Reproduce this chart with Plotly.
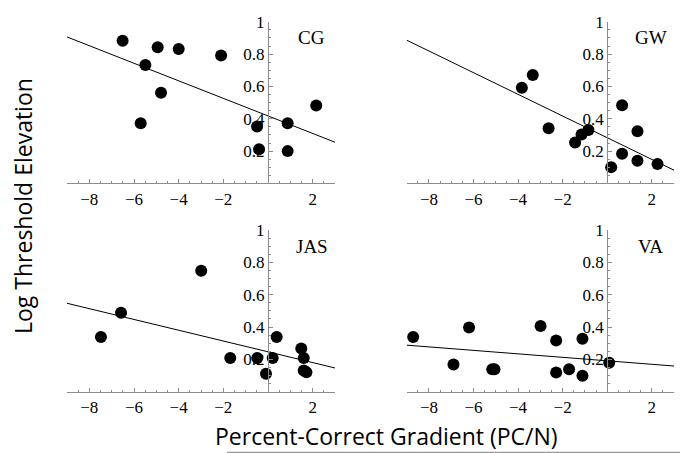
import plotly.graph_objects as go

# ---- data ----
panel_names = ["CG", "GW", "JAS", "VA"]

cg_x = [-6.51, -4.94, -4.00, -2.10, -5.49, -4.79, -5.70, -0.49, -0.40, 0.88, 0.88, 2.16]
cg_y = [0.883, 0.842, 0.832, 0.791, 0.733, 0.561, 0.372, 0.352, 0.211, 0.372, 0.200, 0.482]

gw_x = [-3.83, -3.34, -2.63, -1.44, -1.15, -0.84, 0.67, 0.67, 0.18, 1.36, 1.36, 2.26]
gw_y = [0.592, 0.671, 0.341, 0.253, 0.303, 0.331, 0.483, 0.184, 0.101, 0.323, 0.141, 0.121]

jas_x = [-7.48, -6.58, -2.99, -1.69, -0.48, -0.09, 0.21, 0.39, 1.49, 1.60, 1.60, 1.72]
jas_y = [0.339, 0.488, 0.748, 0.208, 0.208, 0.111, 0.208, 0.339, 0.268, 0.208, 0.131, 0.121]

va_x = [-8.71, -6.90, -6.20, -5.16, -5.06, -2.99, -2.29, -2.29, -1.71, -1.11, -1.11, 0.09]
va_y = [0.339, 0.169, 0.397, 0.139, 0.139, 0.407, 0.317, 0.119, 0.139, 0.327, 0.099, 0.179]

# fitted regression lines: y values at the x ends
fit_x = [-9, 3]
cg_fit = [0.906, 0.255]
gw_fit = [0.886, 0.082]
jas_fit = [0.547, 0.147]
va_fit = [0.288, 0.159]

x_ticks = [-8, -6, -4, -2, 2]
y_ticks = [0.2, 0.4, 0.6, 0.8, 1]
y_ticktext = ["0.2", "0.4", "0.6", "0.8", "1"]

panels = [
    (cg_x, cg_y, cg_fit),
    (gw_x, gw_y, gw_fit),
    (jas_x, jas_y, jas_fit),
    (va_x, va_y, va_fit),
]

# ---- layout geometry ----
W, H = 680, 453
xdoms = [[67 / W, 335 / W], [406.7 / W, 674 / W]]
ydoms = [[(H - 178) / H, (H - 13) / H], [(H - 390.5) / H, (H - 225.5) / H]]
XR = [-9, 3]
YR = [0, 1]

serif = "Liberation Serif"
sans = "Open Sans"
axis_col = "#8c8c8c"

fig = go.Figure()
layout = dict(
    width=W, height=H,
    margin=dict(l=0, r=0, t=0, b=0),
    paper_bgcolor="white", plot_bgcolor="white",
    showlegend=False,
    font=dict(family=serif, size=17, color="black"),
)

annotations = []
for i, (px, py, fit) in enumerate(panels):
    r, c = divmod(i, 2)
    n = "" if i == 0 else str(i + 1)
    xa, ya = "x" + n, "y" + n
    fig.add_trace(go.Scatter(x=fit_x, y=fit, mode="lines",
                             line=dict(color="black", width=1),
                             xaxis=xa, yaxis=ya, hoverinfo="skip"))
    fig.add_trace(go.Scatter(x=px, y=py, mode="markers",
                             marker=dict(color="black", size=12),
                             xaxis=xa, yaxis=ya, cliponaxis=False))
    xd = xdoms[c]
    yd = ydoms[r]
    ypos = xd[0] + (0 - XR[0]) / (XR[1] - XR[0]) * (xd[1] - xd[0])
    layout["xaxis" + n] = dict(
        domain=xd, range=XR, anchor=ya,
        showgrid=False, zeroline=False,
        showline=True, linecolor=axis_col, linewidth=1,
        tickvals=x_ticks, ticks="inside", ticklen=4, tickcolor=axis_col,
        minor=dict(dtick=0.5, tick0=0, ticks="inside", ticklen=2, tickcolor=axis_col),
        tickfont=dict(family=serif, size=17, color="black"),
        fixedrange=True,
    )
    layout["yaxis" + n] = dict(
        domain=yd, range=YR, anchor="free", position=ypos,
        showgrid=False, zeroline=False,
        showline=True, linecolor=axis_col, linewidth=1,
        tickvals=y_ticks, ticktext=y_ticktext,
        ticks="inside", ticklen=4, tickcolor=axis_col,
        minor=dict(dtick=0.05, tick0=0, ticks="inside", ticklen=2, tickcolor=axis_col),
        tickfont=dict(family=serif, size=17, color="black"),
        fixedrange=True,
    )
    annotations.append(dict(x=1.95, y=0.9, xref=xa, yref=ya, text=panel_names[i],
                            showarrow=False, xanchor="center", yanchor="middle",
                            font=dict(family=serif, size=19, color="black")))

annotations.append(dict(x=386 / W, y=(H - 436) / H, xref="paper", yref="paper",
                        text="Percent-Correct Gradient (PC/N)", showarrow=False,
                        xanchor="center", yanchor="middle",
                        font=dict(family=sans, size=23, color="black")))
annotations.append(dict(x=23 / W, y=(H - 201) / H, xref="paper", yref="paper",
                        text="Log Threshold Elevation", showarrow=False, textangle=-90,
                        xanchor="center", yanchor="middle",
                        font=dict(family=sans, size=23, color="black")))
layout["annotations"] = annotations
layout["shapes"] = [dict(type="line", xref="paper", yref="paper",
                         x0=227 / W, x1=1, y0=0.5 / H, y1=0.5 / H,
                         line=dict(color="#9a9a9a", width=1.5))]

fig.update_layout(**layout)
fig.write_html(
    "out.html",
    config={"displayModeBar": False},
    post_script="document.body.style.margin='0';document.body.style.overflow='hidden';",
)
